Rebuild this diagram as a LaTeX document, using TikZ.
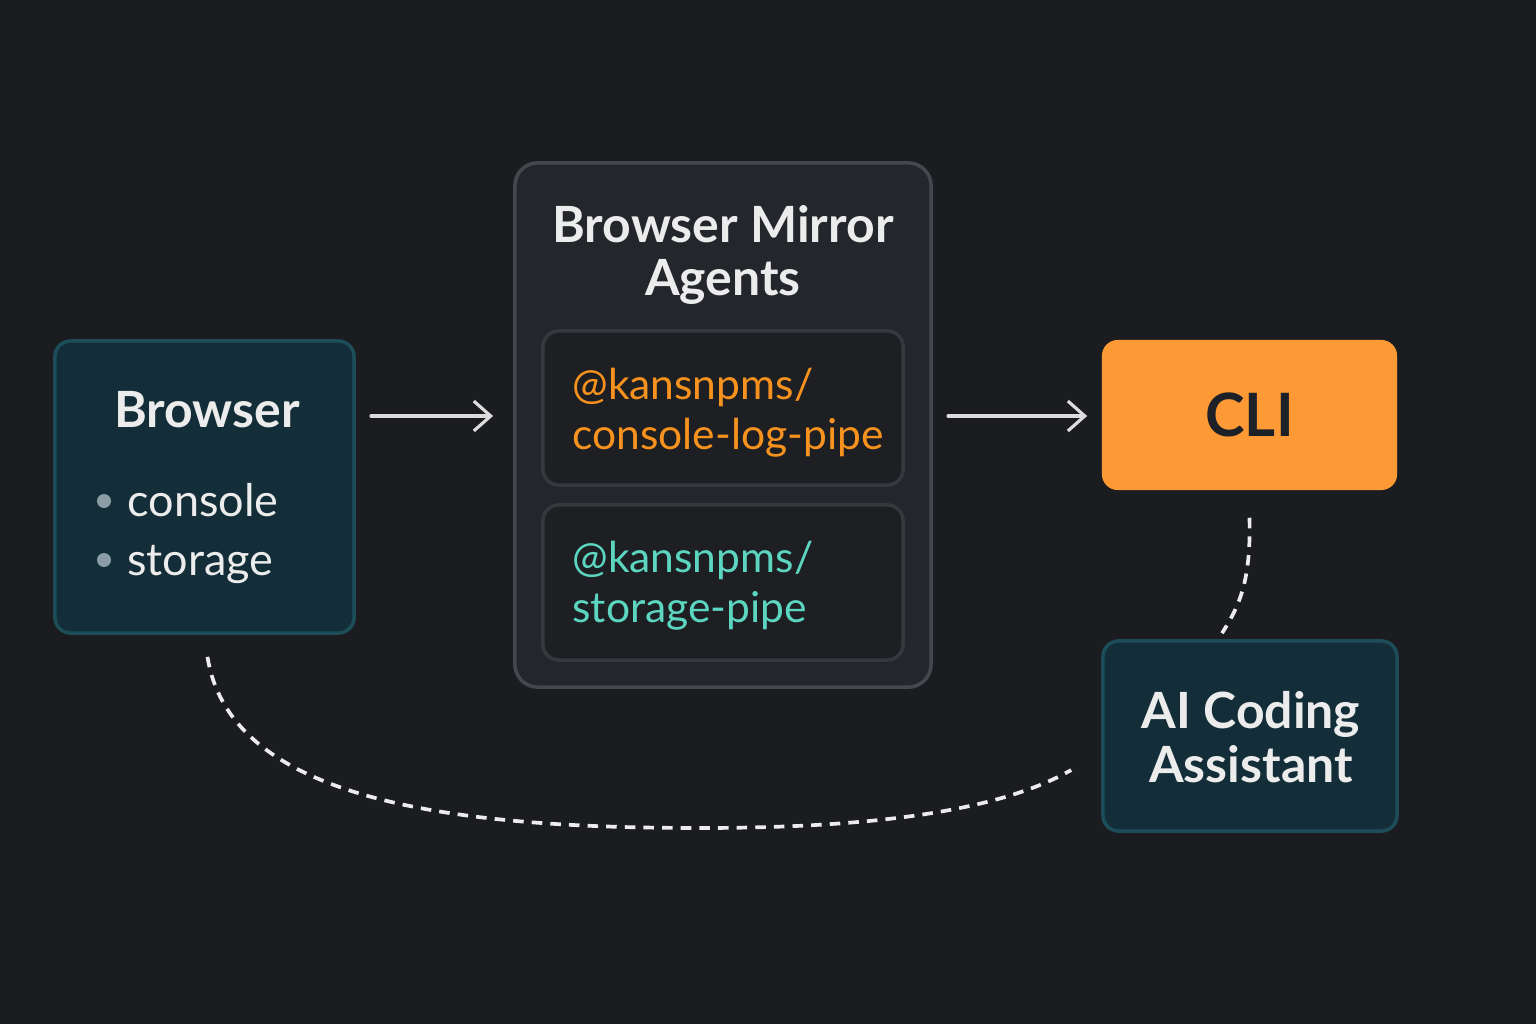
\documentclass[tikz,border=0pt]{standalone}
\usepackage{fontspec}
\setmainfont{Lato}
\usetikzlibrary{arrows.meta}
\usetikzlibrary{calc}

\definecolor{bgdark}{HTML}{1B1C20}
\definecolor{tealfill}{HTML}{132E38}
\definecolor{tealedge}{HTML}{1C4D59}
\definecolor{mirrorfill}{HTML}{23262B}
\definecolor{mirroredge}{HTML}{44484E}
\definecolor{pkgfill}{HTML}{1D1F23}
\definecolor{pkgedge}{HTML}{35383D}
\definecolor{pkgorange}{HTML}{F7921E}
\definecolor{pkgteal}{HTML}{5CD6C0}
\definecolor{clifill}{HTML}{FD9A35}
\definecolor{clitext}{HTML}{1D2026}
\definecolor{lighttext}{HTML}{ECECEC}
\definecolor{bulletgray}{HTML}{8A9CA4}
\definecolor{arrowgray}{HTML}{DCDCDC}

\tikzset{
    tealbox/.style={draw=tealedge, fill=tealfill, line width=1pt, rounded corners=4.5pt, inner sep=0pt},
    mirrorbox/.style={draw=mirroredge, fill=mirrorfill, line width=1pt, rounded corners=6.5pt, inner sep=0pt},
    pkgbox/.style={draw=pkgedge, fill=pkgfill, line width=1pt, rounded corners=4.5pt, inner sep=0pt},
    clibox/.style={fill=clifill, rounded corners=4.5pt, inner sep=0pt},
    titletext/.style={text=lighttext, align=center, font=\fontsize{14.2}{15.2}\selectfont\bfseries},
    itemtext/.style={text=lighttext, anchor=base west, font=\fontsize{12.8}{15}\selectfont},
    pkgtext/.style={anchor=west, align=left, font=\fontsize{12.1}{14.2}\selectfont},
    flowarrow/.style={draw=arrowgray, line width=0.9pt, line cap=round, -{Straight Barb[length=4.8pt, width=8.5pt, line width=0.9pt]}},
    dashline/.style={draw=lighttext, line width=1.05pt, dash pattern=on 3pt off 2.3pt}
}

\begin{document}
\begin{tikzpicture}[x=0.01cm, y=-0.01cm]
    % Background
    \fill[bgdark] (0,0) rectangle (1536,1024);
    \useasboundingbox (0,0) rectangle (1536,1024);

    % Browser
    \node[tealbox, minimum width=2.99cm, minimum height=2.92cm] (browser) at (204.5,487) {};
    \node[titletext] (browsertitle) at (207,410) {Browser};
    \foreach \y/\label in {501/console, 560/storage} {
        \fill[bulletgray] (104,\y) circle (7);
        \node[itemtext] at (115,\y+15) {\label};
    }

    % Browser Mirror Agents
    \node[mirrorbox, minimum width=4.16cm, minimum height=5.24cm] (mirror) at (723,425) {};
    \node[titletext] (mirrortitle) at (723,255) {Browser Mirror\\Agents};

    % Packages
    \node[pkgbox, minimum width=3.6cm, minimum height=1.54cm] (consolepipe) at (723,408) {};
    \node[pkgtext, text=pkgorange] at (560,413) {@kansnpms/\\console-log-pipe};
    \node[pkgbox, minimum width=3.6cm, minimum height=1.55cm] (storagepipe) at (723,582.5) {};
    \node[pkgtext, text=pkgteal] at (560,586) {@kansnpms/\\storage-pipe};

    % CLI
    \node[clibox, minimum width=2.95cm, minimum height=1.5cm, text=clitext,
          font=\fontsize{17}{20}\selectfont\bfseries] (cli) at (1249.5,415) {CLI};

    % AI Coding Assistant
    \node[tealbox, minimum width=2.94cm, minimum height=1.9cm] (assistant) at (1250,736) {};
    \node[titletext] (assistanttitle) at (1251,737) {AI Coding\\Assistant};

    % Arrows
    \draw[flowarrow, shorten <=4.3pt, shorten >=5.7pt] (browser.east |- 0,416) -- (mirror.west |- 0,416);
    \draw[flowarrow, shorten <=4.3pt, shorten >=4pt] (mirror.east |- 0,416) -- (cli.west |- 0,416);

    % Dashed links
    \draw[dashline] ($(cli.south)+(0,27)$) .. controls (1251,580) and (1240,605) .. ($(assistant.north)+(-28,-6)$);
    \draw[dashline] ($(browser.south)+(3,22)$) .. controls (230,800) and (450,828) .. (700,828)
        .. controls (900,828) and (1010,805) .. ($(assistant.west)+(-30,34)$);
\end{tikzpicture}
\end{document}
